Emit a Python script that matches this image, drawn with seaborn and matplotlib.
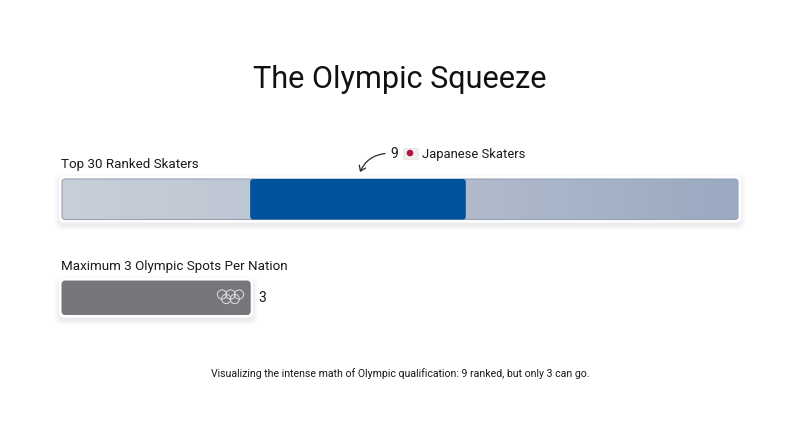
import matplotlib
matplotlib.use('Agg')
import matplotlib.pyplot as plt
import numpy as np
import seaborn as sns
from matplotlib.colors import LinearSegmentedColormap
from matplotlib.patches import Circle, FancyArrowPatch, FancyBboxPatch, Rectangle
from matplotlib.transforms import Bbox

sns.set_theme(style='white')
plt.rcParams['font.family'] = ['Roboto', 'DejaVu Sans']

# Bar lengths (the drawn segments are not strictly to scale)
ranked_label = 'Top 30 Ranked Skaters'
spots_label = 'Maximum 3 Olympic Spots Per Nation'
ranked_total = [30]
japanese_start = [8.35]
japanese_end = [17.92]
spots_len = [8.35]
spots_value = '3'
japanese_count = '9'
japanese_label = 'Japanese Skaters'
title = 'The Olympic Squeeze'
caption = 'Visualizing the intense math of Olympic qualification: 9 ranked, but only 3 can go.'

W, H = 800, 447
fig = plt.figure(figsize=(W / 100, H / 100), dpi=100)
fig.patch.set_facecolor('white')


def px_axes(x0, x1, y0, y1):
    ax = fig.add_axes([x0 / W, 1 - y1 / H, (x1 - x0) / W, (y1 - y0) / H])
    ax.set_axis_off()
    return ax


def bar_on(ax, value):
    sns.barplot(x=value, y=[0], orient='h', width=1, ax=ax)
    ax.set_xlim(0, 30)
    ax.set_ylim(0.5, -0.5)
    ax.set_axis_off()
    p = ax.patches[-1]
    p.set_visible(False)
    return p.get_window_extent(fig.canvas.get_renderer())


top_ax = px_axes(62, 738, 179, 219.5)
low_ax = px_axes(62, 738, 281, 314.5)
fig.canvas.draw()
ranked_box = bar_on(top_ax, ranked_total)
start_box = bar_on(top_ax, japanese_start)
end_box = bar_on(top_ax, japanese_end)
japan_box = Bbox.from_extents(start_box.x1, end_box.y0, end_box.x1, end_box.y1)
spots_box = bar_on(low_ax, spots_len)

# overlay in pixel coordinates for rounded boxes and small decorations
over = fig.add_axes([0, 0, 1, 1], facecolor='none')
over.set_xlim(0, W)
over.set_ylim(H, 0)
over.set_axis_off()


def rounded(box, grow=0.0, dy=0.0, rad=3.0, **kw):
    x0, x1 = box.x0 - grow, box.x1 + grow
    y0, y1 = H - box.y1 - grow + dy, H - box.y0 + grow + dy
    patch = FancyBboxPatch((x0 + rad, y0 + rad), x1 - x0 - 2 * rad, y1 - y0 - 2 * rad,
                           boxstyle=f'round,pad={rad},rounding_size={rad}', **kw)
    over.add_patch(patch)
    return patch


def halo(box):
    # soft drop shadow, then the white rim
    for g, a in zip([8, 6.5, 5, 3.5], [0.012, 0.018, 0.025, 0.035]):
        rounded(box, grow=g, dy=3, rad=4 + g / 2, fc='#39465c', ec='none', alpha=a)
    rounded(box, grow=3, rad=5, fc='white', ec='none')


halo(ranked_box)
halo(spots_box)

# gradient of the light ranked bar
grad = LinearSegmentedColormap.from_list('rk', ['#c7cfd9', '#b6bfce', '#9aa9c1'])
img = over.imshow(np.linspace(0, 1, 256).reshape(1, -1), cmap=grad, aspect='auto',
                  extent=(ranked_box.x0, ranked_box.x1, H - ranked_box.y0, H - ranked_box.y1),
                  zorder=2)
clip = rounded(ranked_box, fc='none', ec='#97a2b5', lw=0.8, zorder=3)
img.set_clip_path(clip)
over.set_xlim(0, W)
over.set_ylim(H, 0)

rounded(japan_box, fc='#00529c', ec='none', zorder=4)
rounded(spots_box, fc='#75777b', ec='#6a6c70', lw=0.6, zorder=4)

# olympic rings
for cx, cy in [(222, 294.5), (230.5, 294.5), (239, 294.5), (226.2, 299), (234.8, 299)]:
    over.add_patch(Circle((cx, cy), 4.6, fc='none', ec='#dfe0e1', lw=0.7, zorder=5))

# japanese flag
over.add_patch(Rectangle((402.5, 147.5), 15, 11, fc='#f1eded', ec='#e2dede', lw=0.4, zorder=5))
over.add_patch(Circle((410, 153), 3.3, fc='#b5123f', ec='none', zorder=6))

# curved pointer
over.add_patch(FancyArrowPatch((385, 153.5), (360, 172), connectionstyle='arc3,rad=0.28',
                               arrowstyle='->,head_length=3.5,head_width=2.5',
                               color='#2a2a2a', lw=0.9, shrinkA=0, shrinkB=0, zorder=5))

txt = '#1a1a1a'
over.text(400, 79.5, title, ha='center', va='center', fontsize=22.1, color='#111111')
over.text(61, 164.5, ranked_label, ha='left', va='center', fontsize=9.6, color=txt)
over.text(390, 154.5, japanese_count, ha='left', va='center', fontsize=10, color=txt)
over.text(422, 154.5, japanese_label, ha='left', va='center', fontsize=9.4, color=txt)
over.text(61, 266.5, spots_label, ha='left', va='center', fontsize=9.6, color=txt)
over.text(258, 298.5, spots_value, ha='left', va='center', fontsize=10, color=txt)
over.text(400.5, 374, caption, ha='center', va='center', fontsize=7.6, color=txt)

fig.savefig('out.png', dpi=100)
